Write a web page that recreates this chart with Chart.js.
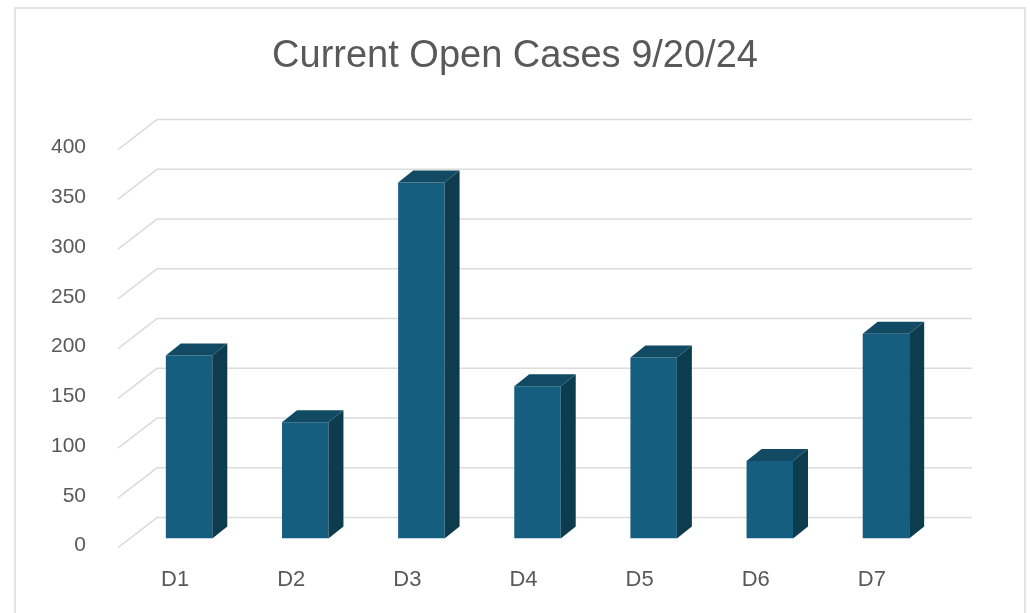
<!DOCTYPE html>
<html>
<head>
<meta charset="utf-8">
<script src="https://cdn.jsdelivr.net/npm/chart.js@4.4.0/dist/chart.umd.min.js"></script>
<style>
  body { margin: 0; background: #fff; }
  #wrap { position: relative; width: 1030px; height: 613px; }
  #frame { position: absolute; left: 14px; top: 7px; width: 1012px; height: 620px; border: 2px solid #e3e3e3; box-sizing: border-box; }
  canvas { position: absolute; left: 0; top: 0; }
</style>
</head>
<body>
<div id="wrap">
  <div id="frame"></div>
  <canvas id="casos" width="1030" height="613"></canvas>
</div>
<script>
var categorias = ['D1', 'D2', 'D3', 'D4', 'D5', 'D6', 'D7'];
var casosAbiertos = [184, 117, 358, 153, 182, 78, 206];
var titulo = 'Current Open Cases 9/20/24';

// fake 3D: gridlines on the back wall + side/top faces of each bar
var efecto3d = {
    id: 'efecto3d',
    beforeDatasetsDraw: function (chart) {
        var c = chart.ctx, a = chart.chartArea, y = chart.scales.y;
        c.save();
        c.strokeStyle = '#dcdcdc';
        c.lineWidth = 1.5;
        y.ticks.forEach(function (t) {
            var py = y.getPixelForValue(t.value);
            c.beginPath();
            c.moveTo(a.left - 13, py + 9);
            c.lineTo(a.left + 26, py - 21);
            c.lineTo(a.right + 28, py - 21);
            c.stroke();
        });
        c.restore();
    },
    afterDatasetsDraw: function (chart) {
        var c = chart.ctx;
        var dx = 15, dy = -12;
        c.save();
        chart.getDatasetMeta(0).data.forEach(function (b) {
            var l = b.x - b.width / 2, r = b.x + b.width / 2;
            // lado
            c.fillStyle = '#0e3c4f';
            c.beginPath();
            c.moveTo(r, b.y);
            c.lineTo(r + dx, b.y + dy);
            c.lineTo(r + dx, b.base + dy);
            c.lineTo(r, b.base);
            c.closePath();
            c.fill();
            // techo
            c.fillStyle = '#124a63';
            c.beginPath();
            c.moveTo(l, b.y);
            c.lineTo(l + dx, b.y + dy);
            c.lineTo(r + dx, b.y + dy);
            c.lineTo(r, b.y);
            c.closePath();
            c.fill();
        });
        c.restore();
    }
};

var ctx = document.getElementById('casos').getContext('2d');
var chart = new Chart(ctx, {
    type: 'bar',
    data: {
        labels: categorias,
        datasets: [{
            data: casosAbiertos,
            backgroundColor: '#165e7f',
            borderWidth: 0,
            barPercentage: 0.4,
            categoryPercentage: 1
        }]
    },
    options: {
        responsive: false,
        animation: false,
        layout: { padding: 0 },
        plugins: {
            legend: { display: false },
            tooltip: { enabled: false },
            title: {
                display: true,
                text: titulo,
                color: '#595959',
                font: { family: 'Liberation Sans', size: 38, weight: 'normal' },
                padding: { top: 34, bottom: 61 }
            }
        },
        scales: {
            x: {
                grid: { display: false },
                border: { display: false },
                ticks: {
                    color: '#595959',
                    font: { family: 'Liberation Sans', size: 22 },
                    padding: 20,
                    labelOffset: -14
                }
            },
            y: {
                min: 0,
                max: 400,
                grid: { display: false },
                border: { display: false },
                afterFit: function (s) { s.width = 131; },
                ticks: {
                    stepSize: 50,
                    color: '#595959',
                    font: { family: 'Liberation Sans', size: 21 },
                    padding: 37,
                    labelOffset: 7
                }
            },
            derecha: {
                position: 'right',
                grid: { display: false },
                border: { display: false },
                ticks: { display: false },
                afterFit: function (s) { s.width = 86; }
            }
        }
    },
    plugins: [efecto3d]
});
</script>
</body>
</html>
